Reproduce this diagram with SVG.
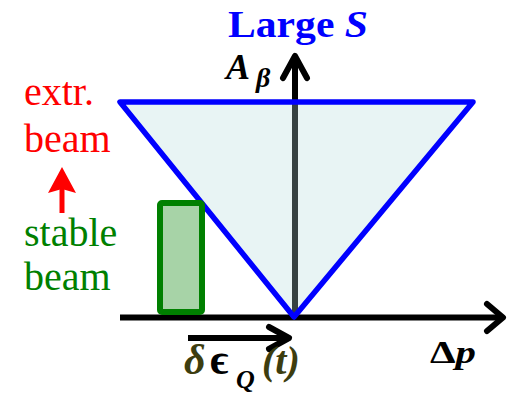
<svg xmlns="http://www.w3.org/2000/svg" width="510" height="397" viewBox="0 0 510 397">
<style>
.ax{stroke:#000;stroke-width:6;fill:none;stroke-linecap:round;stroke-linejoin:round}
text{font-family:"Liberation Serif","Times New Roman",serif}
</style>
<rect width="510" height="397" fill="#fff"/>
<g id="connectors">
<line x1="295" y1="318" x2="295" y2="58" stroke="#000" stroke-width="6"/>
<path class="ax" d="M283 78 L295 56 L307 78"/>
<line x1="120" y1="317.5" x2="500" y2="317.5" stroke="#000" stroke-width="6"/>
<path class="ax" d="M487 304 L503 317.5 L487 331"/>
<line x1="188" y1="338" x2="286" y2="338" stroke="#000" stroke-width="6"/>
<path class="ax" d="M269 327 L289 338 L269 349"/>
<line x1="62" y1="188" x2="62" y2="213" stroke="#f00" stroke-width="5"/>
<path d="M48 193 L62 167 L76 193 L62 189 Z" fill="#f00"/>
</g>
<g id="triangle">
<path d="M120 102 L473 102 L294 317 Z" fill="rgb(178,218,218)" fill-opacity="0.3" stroke="#0000ff" stroke-width="5.5" stroke-linejoin="round"/>
</g>
<g id="stable-box">
<rect x="160" y="203" width="42" height="109" rx="2" fill="#a7d3a7" stroke="#008000" stroke-width="6"/>
</g>
<g id="labels">
<text x="228" y="37" font-size="38" font-weight="bold" fill="#0000ff" textLength="140" lengthAdjust="spacingAndGlyphs">Large <tspan font-style="italic">S</tspan></text>
<text x="226" y="79" font-size="36" font-weight="bold" font-style="italic" fill="#000">A<tspan x="256" y="87" font-size="28">β</tspan></text>
<text x="24" y="105" font-size="40" fill="#f00">extr.</text>
<text x="24" y="152" font-size="40" fill="#f00">beam</text>
<text x="24" y="246" font-size="40" fill="#008000">stable</text>
<text x="24" y="290" font-size="40" fill="#008000">beam</text>
<text x="184" y="374" font-size="42" font-weight="bold" font-style="italic" fill="#3d3d0f">δ<tspan x="210" font-size="44" fill="#000" font-style="normal">ϵ</tspan><tspan x="236" y="388" fill="#000" font-size="26">Q</tspan><tspan x="262" y="374" font-size="40">(t)</tspan></text>
<text x="430" y="363" font-size="32" font-weight="bold" fill="#000" textLength="46" lengthAdjust="spacingAndGlyphs">Δ<tspan font-style="italic">p</tspan></text>
</g>
</svg>
